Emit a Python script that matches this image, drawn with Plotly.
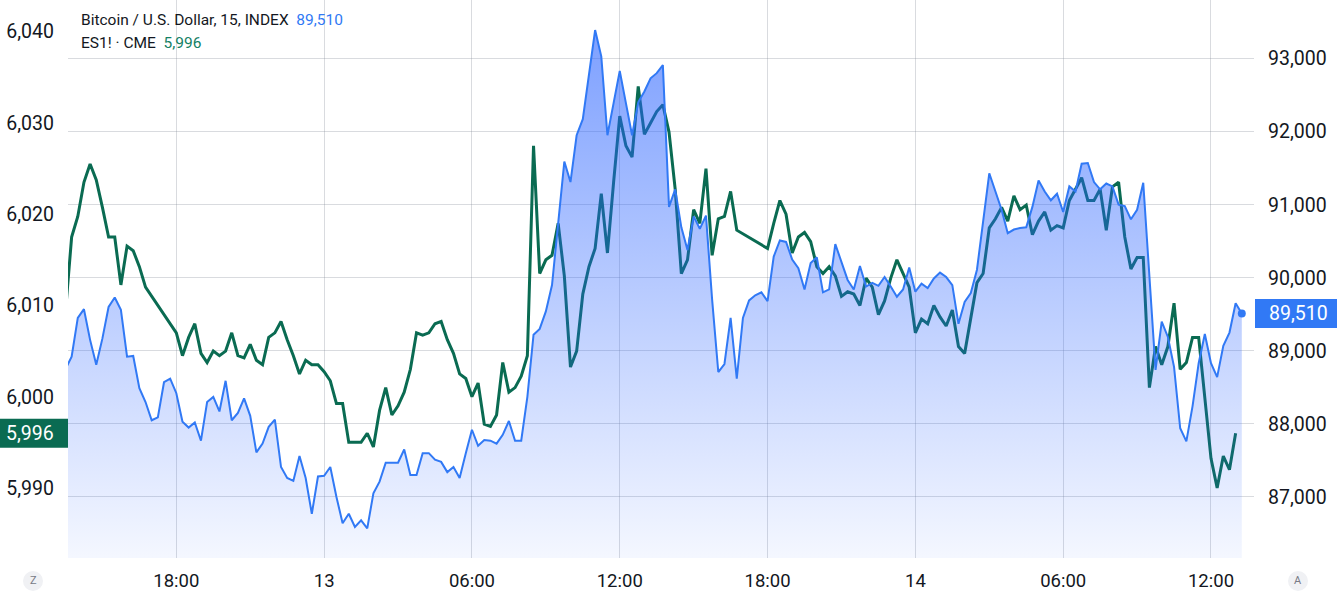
import pandas as pd
import plotly.graph_objects as go

# ---------------- data (15-minute closes) ----------------
btc_close = [
    88750, 88920, 89450, 89570, 89150, 88810, 89170, 89600, 89730, 89560,
    88920, 88930, 88490, 88300, 88050, 88090, 88570, 88620, 88420, 88030,
    87950, 88020, 87770, 88300, 88370, 88170, 88590, 88050, 88150, 88350,
    88110, 87610, 87730, 87960, 88060, 87410, 87260, 87220, 87560, 87260,
    86770, 87280, 87290, 87410, 87000, 86640, 86770, 86590, 86680, 86570,
    87050, 87210, 87470, 87470, 87470, 87650, 87300, 87300, 87600, 87600,
    87510, 87480, 87340, 87410, 87260, 87600, 87920, 87700, 87780, 87770,
    87730, 87850, 88040, 87770, 87770, 88370, 89220, 89300, 89540, 89900,
    90790, 91590, 91310, 91950, 92170, 92750, 93390, 93030, 91950, 92390,
    92830, 92390, 91950, 92400, 92550, 92730, 92800, 92910, 90970, 91210,
    90690, 90380, 90840, 90670, 90850, 89700, 88710, 88820, 89450, 88620,
    89450, 89690, 89760, 89800, 89680, 90290, 90510, 90490, 90250, 90130,
    89840, 90200, 90280, 89800, 89840, 90460, 90200, 89970, 89840, 90160,
    89880, 89930, 89890, 90010, 89880, 89740, 89840, 90140, 89810, 89920,
    89860, 89990, 90070, 90010, 89900, 89370, 89670, 89790, 90110, 90750,
    91430, 91180, 90930, 90610, 90660, 90680, 90690, 90970, 91330, 91180,
    91060, 91150, 90900, 91250, 91180, 91560, 91570, 91310, 91210, 91290,
    91250, 91000, 90980, 90800, 90930, 91300, 89970, 88740, 89400, 89190,
    88780, 87940, 87760, 88240, 88830, 89230, 88830, 88640, 89070, 89250,
    89650, 89510,
]

es_close = [
    # session of the 12th (until the 17:00 break)
    6009.25, 6017.5, 6019.75, 6023.5, 6025.5, 6023.75, 6020.75, 6017.5, 6017.5, 6012.25,
    6016.5, 6016.0, 6014.25, 6012.0,
    # overnight / 13th session
    6007.0, 6004.5, 6006.5, 6008.0, 6004.75, 6003.75, 6005.0, 6004.5, 6005.0, 6007.0,
    6004.5, 6004.25, 6005.75, 6004.0, 6003.5, 6006.5, 6007.0, 6008.25, 6006.25, 6004.5,
    6002.5, 6004.0, 6003.5, 6003.5, 6002.75, 6001.75, 5999.25, 5999.25, 5995.0, 5995.0,
    5995.0, 5996.0, 5994.5, 5998.5, 6001.0, 5998.0, 5999.0, 6000.5, 6003.0, 6007.0,
    6006.75, 6007.0, 6008.0, 6008.25, 6006.25, 6004.75, 6002.5, 6002.0, 6000.0, 6001.5,
    5997.0, 5996.75, 5998.0, 6003.75, 6000.5, 6001.0, 6002.25, 6004.5, 6027.5, 6013.5,
    6015.0, 6015.5, 6019.0, 6013.25, 6003.25, 6005.0, 6011.25, 6014.25, 6016.25, 6022.25,
    6015.75, 6023.5, 6030.75, 6027.5, 6026.25, 6034.0, 6028.75, 6030.0, 6031.25, 6032.0,
    6029.0, 6022.75, 6013.5, 6015.0, 6020.5, 6019.0, 6025.0, 6015.5, 6019.5, 6019.75,
    6022.5, 6018.25,
    # overnight / 14th session
    6016.25, 6019.0, 6021.5, 6020.0, 6015.75, 6017.5, 6018.0, 6017.0, 6014.25, 6013.5,
    6014.25, 6013.25, 6011.0, 6011.5, 6011.25, 6010.0, 6013.0, 6012.0, 6009.0, 6010.5,
    6013.0, 6015.0, 6013.5, 6012.0, 6007.0, 6008.5, 6008.0, 6010.0, 6008.75, 6007.75,
    6009.5, 6005.5, 6004.75, 6008.75, 6012.5, 6013.5, 6018.5, 6019.5, 6020.75, 6019.25,
    6022.0, 6020.5, 6021.0, 6017.75, 6019.25, 6020.25, 6018.25, 6018.75, 6018.5, 6021.5,
    6022.75, 6024.0, 6021.5, 6021.5, 6022.75, 6018.25, 6023.0, 6023.5, 6017.5, 6014.0,
    6015.25, 6015.25, 6001.0, 6005.5, 6003.5, 6005.5, 6010.25, 6003.0, 6003.75, 6006.5,
    6006.5, 6000.25, 5993.25, 5990.0, 5993.5, 5992.0, 5996.0,
]

x_tick_times = ["2024-11-12 18:00", "2024-11-13 00:00", "2024-11-13 06:00", "2024-11-13 12:00",
                "2024-11-13 18:00", "2024-11-14 00:00", "2024-11-14 06:00", "2024-11-14 12:00"]
x_tick_labels = ["18:00", "13", "06:00", "12:00", "18:00", "14", "06:00", "12:00"]
es_ticks = [5990, 6000, 6010, 6020, 6030, 6040]
btc_ticks = [87000, 88000, 89000, 90000, 91000, 92000, 93000]

btc_name = "Bitcoin / U.S. Dollar, 15, INDEX"
es_name = "ES1! · CME"

# time axis: 15-minute bars; ES pauses for the daily 17:00-18:00 maintenance break
btc_time = pd.date_range("2024-11-12 13:30", periods=len(btc_close), freq="15min")
es_time = [t for t in btc_time if t.hour != 17][:len(es_close)]

# ---------------- styling ----------------
FONT = "Roboto, Arial, sans-serif"
TXT = "#131722"
BLUE = "#3179F5"
GREEN = "#0a6b52"
GRID = "rgba(130,135,150,0.30)"

ES_RANGE = [5982.33, 6043.47]
BTC_RANGE = [86165, 93801]
L, R = 68, 1254          # plot area left/right pixel edges
PLOT_W = float(R - L)
PLOT_H = 558.0


def px(xpix):
    return (xpix - L) / PLOT_W


def py(ypix):
    return 1 - ypix / PLOT_H


fig = go.Figure()

fig.add_trace(go.Scatter(
    x=es_time, y=es_close, mode="lines", name=es_name,
    line=dict(color=GREEN, width=3), yaxis="y", hoverinfo="skip",
))

fig.add_trace(go.Scatter(
    x=btc_time, y=btc_close, mode="lines", name=btc_name,
    line=dict(color=BLUE, width=2), fill="tozeroy",
    fillgradient=dict(type="vertical",
                      colorscale=[[0, "rgba(41,98,255,0.05)"], [1, "rgba(41,98,255,0.62)"]],
                      start=BTC_RANGE[0], stop=93600),
    yaxis="y2", hoverinfo="skip",
))

fig.add_trace(go.Scatter(
    x=[btc_time[-1]], y=[btc_close[-1]], mode="markers",
    marker=dict(color=BLUE, size=8), yaxis="y2", hoverinfo="skip", showlegend=False,
))

last_btc = btc_close[-1]
last_es = es_close[-1]

annotations = [
    dict(xref="paper", yref="paper", x=px(79), y=py(20),
         xanchor="left", yanchor="middle", showarrow=False,
         text=f"{btc_name}  <span style='color:{BLUE}'>{last_btc:,.0f}</span>",
         font=dict(family=FONT, size=15.5, color=TXT)),
    dict(xref="paper", yref="paper", x=px(79), y=py(43),
         xanchor="left", yanchor="middle", showarrow=False,
         text=f"{es_name}  <span style='color:#138064'>{last_es:,.0f}</span>",
         font=dict(family=FONT, size=15.5, color=TXT)),
    dict(xref="paper", yref="y", x=px(56), y=last_es, xanchor="right", yanchor="middle",
         showarrow=False, text=f"{last_es:,.0f}", font=dict(family=FONT, size=19.5, color="white")),
    dict(xref="paper", yref="y2", x=px(1267), y=last_btc, xanchor="left", yanchor="middle",
         showarrow=False, text=f"{last_btc:,.0f}", font=dict(family=FONT, size=19.5, color="white")),
    dict(xref="paper", yref="paper", x=px(33), y=py(581),
         xanchor="center", yanchor="middle", showarrow=False, text="Z",
         font=dict(family=FONT, size=11, color="#787b86")),
    dict(xref="paper", yref="paper", x=px(1298), y=py(581),
         xanchor="center", yanchor="middle", showarrow=False, text="A",
         font=dict(family=FONT, size=11, color="#787b86")),
]

es_half = 14.5 / PLOT_H * (ES_RANGE[1] - ES_RANGE[0])
btc_half = 14.5 / PLOT_H * (BTC_RANGE[1] - BTC_RANGE[0])
shapes = [
    dict(type="rect", xref="paper", yref="y", x0=px(0), x1=px(68),
         y0=last_es - es_half, y1=last_es + es_half, fillcolor=GREEN, line=dict(width=0), layer="above"),
    dict(type="rect", xref="paper", yref="y2", x0=px(1255), x1=px(1337),
         y0=last_btc - btc_half, y1=last_btc + btc_half, fillcolor=BLUE, line=dict(width=0), layer="above"),
    dict(type="circle", xref="paper", yref="paper",
         x0=px(23), x1=px(43), y0=py(591), y1=py(571),
         fillcolor="#f0f1f4", line=dict(width=0), layer="below"),
    dict(type="circle", xref="paper", yref="paper",
         x0=px(1288), x1=px(1308), y0=py(591), y1=py(571),
         fillcolor="#f0f1f4", line=dict(width=0), layer="below"),
]

fig.update_layout(
    width=1337, height=599,
    margin=dict(l=L, r=1337 - R, t=0, b=599 - int(PLOT_H)),
    paper_bgcolor="white", plot_bgcolor="white",
    showlegend=False,
    font=dict(family=FONT, color=TXT),
    xaxis=dict(
        type="date",
        range=["2024-11-12 13:36:10", "2024-11-14 13:44:45"],
        tickmode="array", tickvals=x_tick_times, ticktext=x_tick_labels,
        showgrid=True, gridcolor=GRID, gridwidth=1,
        zeroline=False, showline=False, ticks="",
        tickfont=dict(family=FONT, size=18.5, color=TXT),
        ticklabelstandoff=9,
        automargin=False,
    ),
    yaxis=dict(
        side="left", range=ES_RANGE,
        tickmode="array", tickvals=es_ticks, tickformat=",",
        showgrid=False, zeroline=False, showline=False, ticks="",
        tickfont=dict(family=FONT, size=19.5, color=TXT),
        ticklabelstandoff=13,
        automargin=False,
    ),
    yaxis2=dict(
        side="right", overlaying="y", range=BTC_RANGE,
        tickmode="array", tickvals=btc_ticks, tickformat=",",
        showgrid=True, gridcolor=GRID, gridwidth=1,
        zeroline=False, showline=False, ticks="",
        tickfont=dict(family=FONT, size=19.5, color=TXT),
        ticklabelstandoff=13,
        automargin=False,
    ),
    annotations=annotations,
    shapes=shapes,
)

fig.write_html(
    "out.html",
    config={"displayModeBar": False},
    post_script="document.body.style.margin='0px';document.body.style.overflow='hidden';",
)
